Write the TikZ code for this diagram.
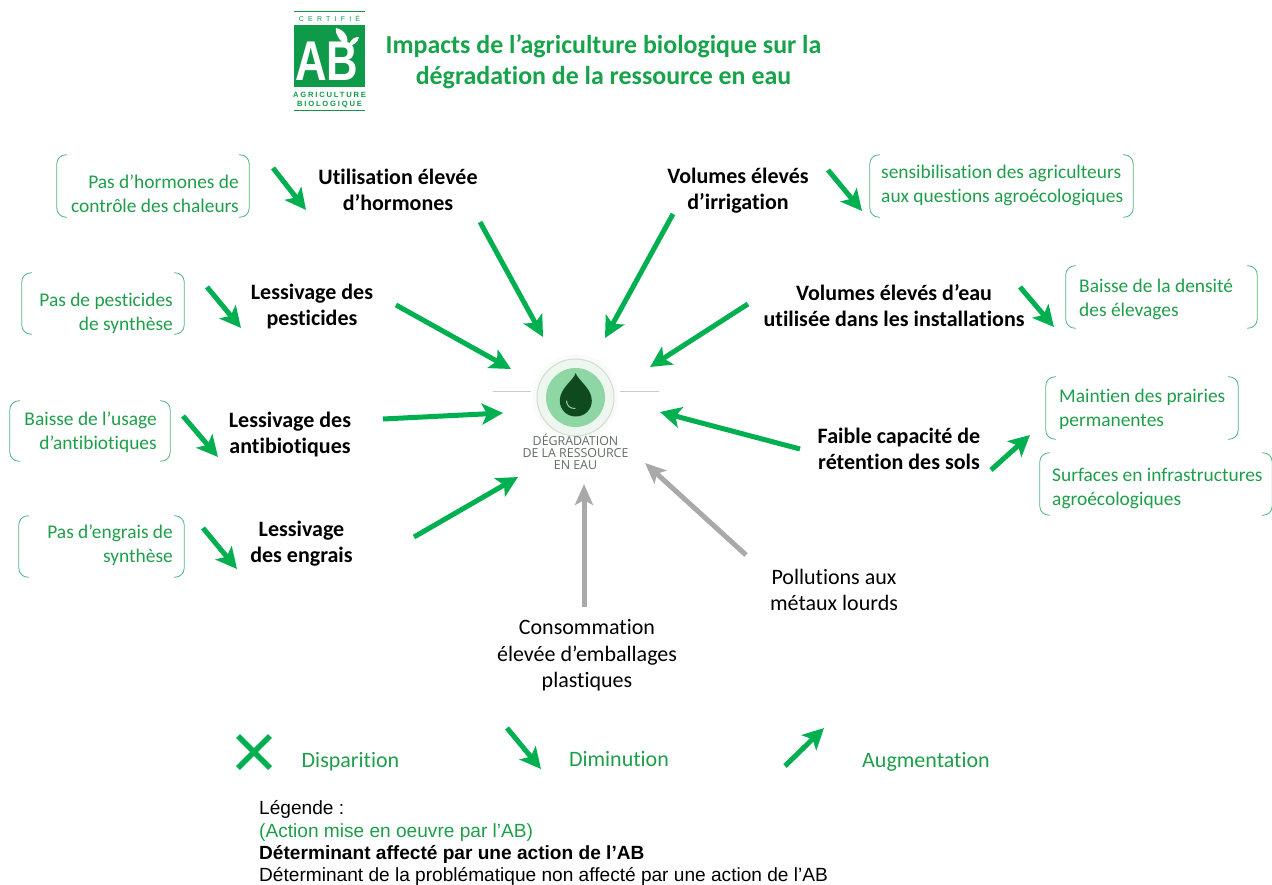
\documentclass[tikz,border=0pt]{standalone}
\usepackage{fontspec}
\setmainfont[Ligatures={TeX,NoCommon}]{Carlito}
\newfontfamily\helv{Liberation Sans}
\newfontfamily\logof[LetterSpace=24]{Liberation Sans}
\newfontfamily\certf[LetterSpace=60]{Liberation Sans}
\newfontfamily\dropf{Open Sans}
\usetikzlibrary{arrows.meta}
\definecolor{arrowgreen}{HTML}{00B050}
\definecolor{textgreen}{HTML}{1E9E4A}
\definecolor{titlegreen}{HTML}{17A34A}
\definecolor{brkgreen}{HTML}{4FB57E}
\definecolor{logogreen}{HTML}{0E9A48}
\definecolor{arrowgray}{HTML}{A9A9A9}
\definecolor{ringfill}{HTML}{EEF7EF}
\definecolor{ringline}{HTML}{D5DBD0}
\definecolor{glowfill}{HTML}{F8FBF8}
\definecolor{discgreen}{HTML}{8FD6A5}
\definecolor{dropgreen}{HTML}{0F4A1E}
\definecolor{dropgray}{HTML}{5F6D60}
\definecolor{hairline}{HTML}{C9CCC4}
\tikzset{
  x=1pt,y=-1pt,
  greenarrow/.style={draw=arrowgreen,line width=5pt,-{Stealth[length=21pt,width=21pt,inset=5pt]}},
  grayarrow/.style={draw=arrowgray,line width=5pt,-{Stealth[length=21pt,width=18pt,inset=5pt]}},
  brk/.style={inner sep=0pt},
  brkline/.style={draw=brkgreen,line width=0.8pt,rounded corners=9pt},
  act/.style={inner sep=0pt,yshift=-1pt,text=textgreen,font=\fontsize{19.4}{24}\selectfont},
  det/.style={inner sep=0pt,yshift=-1.5pt,align=center,text=black,font=\bfseries\fontsize{22}{26}\selectfont},
  other/.style={inner sep=0pt,yshift=-1pt,align=center,text=black,font=\fontsize{22}{26.5}\selectfont},
  legendtag/.style={inner sep=0pt,text=textgreen,font=\fontsize{22}{24}\selectfont},
  legendline/.style={inner sep=0pt,anchor=base west,font=\helv\fontsize{19.1}{20}\selectfont},
  logotext/.style={inner sep=0pt,text=logogreen,font=\logof\bfseries\fontsize{7.6}{9}\selectfont},
}
\newcommand{\bracketpair}[1]{%
  \draw[brkline] ([xshift=10pt]#1.north west) -- (#1.north west) -- (#1.south west) -- ([xshift=10pt]#1.south west);
  \draw[brkline] ([xshift=-10pt]#1.north east) -- (#1.north east) -- (#1.south east) -- ([xshift=-10pt]#1.south east);
}
\begin{document}
\begin{tikzpicture}
\useasboundingbox (0,0) rectangle (1272,885);
\clip (0,0) rectangle (1272,885);

% logo
\node[inner sep=0pt,fill=logogreen,minimum width=71pt,minimum height=62pt] (logo) at (329.5,56) {};
\draw[logogreen,line width=0.8pt] (294,11.5) -- (365,11.5);
\draw[logogreen,line width=0.8pt] (294,110.5) -- (365,110.5);
\node[logotext,font=\certf\fontsize{7}{8}\selectfont] (cert) at (329.5,18.5) {CERTIFIÉ};
\node[inner sep=0pt,text=white,font=\helv\bfseries\fontsize{56}{56}\selectfont,xscale=0.78] (ab) at (327,61) {AB};
\fill[white] (336,28) .. controls (344,30) and (349,36) .. (347,45) .. controls (341,42) and (335,36) .. (336,28) -- cycle;
\fill[white] (349,45) .. controls (351,38) and (356,37) .. (359,37) .. controls (358,42) and (354,46) .. (349,45) -- cycle;
\node[logotext] (agri) at (329.5,94.5) {AGRICULTURE};
\node[logotext] (bio) at (329.5,104.5) {BIOLOGIQUE};

% title
\node[inner sep=0pt,align=center,text=titlegreen,font=\bfseries\fontsize{25.9}{31}\selectfont] (title) at (603.5,62) {Impacts de l’agriculture biologique sur la\\dégradation de la ressource en eau};

% centre pictogram
\coordinate (hl1) at (493,391.5); \coordinate (hl2) at (531,391.5);
\coordinate (hr1) at (620,391.5); \coordinate (hr2) at (659,391.5);
\draw[hairline,line width=0.8pt] (hl1) -- (hl2);
\draw[hairline,line width=0.8pt] (hr1) -- (hr2);
\fill[glowfill] (575.5,397.5) circle (43);
\node[circle,inner sep=0pt,minimum size=77pt,fill=ringfill,draw=ringline,line width=1pt] (centre) at (575.5,397.5) {};
\fill[discgreen] (centre.center) circle (29.5);
\fill[dropgreen] (575.7,373) .. controls (577.5,380) and (591.8,388) .. (591.8,400.5)
  .. controls (591.8,410) and (584.5,416.5) .. (575.7,416.5)
  .. controls (567,416.5) and (559.8,410) .. (559.8,400.5)
  .. controls (559.8,388) and (574,380) .. (575.7,373) -- cycle;
\draw[discgreen,line width=1pt,line cap=round] (566.5,401) .. controls (567,406) and (570,408.5) .. (575,408.5);
\node[inner sep=0pt,align=center,text=dropgray,font=\dropf\fontsize{12.4}{12}\selectfont] (droptext) at (575.5,452) {DÉGRADATION\\DE LA RESSOURCE\\EN EAU};

% determinants
\node[det] (hormones) at (398,188) {Utilisation élevée\\d’hormones};
\node[det] (irrig) at (738,189) {Volumes élevés\\d’irrigation};
\node[det] (pest) at (312,305) {Lessivage des\\pesticides};
\node[det] (instal) at (894,304) {Volumes élevés d’eau\\utilisée dans les installations};
\node[det] (antib) at (290,433) {Lessivage des\\antibiotiques};
\node[det] (sols) at (899,447.5) {Faible capacité de\\rétention des sols};
\node[det] (engrais) at (301.5,542) {Lessivage\\des engrais};
\node[other] (metaux) at (834,589) {Pollutions aux\\métaux lourds};
\node[other] (emball) at (587,654.5) {Consommation\\élevée d’emballages\\plastiques};

% brackets and actions
\node[brk,minimum width=192pt,minimum height=62pt] (b1) at (153,186) {};
\bracketpair{b1}
\node[act,align=right,anchor=east] (t1) at (239,193) {Pas d’hormones de\\contrôle des chaleurs};
\node[brk,minimum width=162pt,minimum height=61pt] (b2) at (103,303.5) {};
\bracketpair{b2}
\node[act,align=right,anchor=east] (t2) at (173,312) {Pas de pesticides\\de synthèse};
\node[brk,minimum width=160pt,minimum height=60pt] (b3) at (90,431) {};
\bracketpair{b3}
\node[act,align=right,anchor=east] (t3) at (157,431) {Baisse de l’usage\\d’antibiotiques};
\node[brk,minimum width=165pt,minimum height=61pt] (b4) at (101.5,546.5) {};
\bracketpair{b4}
\node[act,align=right,anchor=east] (t4) at (173,544) {Pas d’engrais de\\synthèse};
\node[brk,minimum width=263pt,minimum height=62pt] (b5) at (1001.5,186) {};
\bracketpair{b5}
\node[act,align=left,anchor=west] (t5) at (881,184.5) {sensibilisation des agriculteurs\\aux questions agroécologiques};
\node[brk,minimum width=191pt,minimum height=62pt] (b6) at (1161.5,297) {};
\bracketpair{b6}
\node[act,align=left,anchor=west] (t6) at (1079,298) {Baisse de la densité\\des élevages};
\node[brk,minimum width=192pt,minimum height=62pt] (b7) at (1142,408) {};
\bracketpair{b7}
\node[act,align=left,anchor=west] (t7) at (1059,408) {Maintien des prairies\\permanentes};
\node[brk,minimum width=232pt,minimum height=62pt] (b8) at (1156,484) {};
\bracketpair{b8}
\node[act,align=left,anchor=west] (t8) at (1052,487) {Surfaces en infrastructures\\agroécologiques};

% arrow ends
\coordinate (m1s) at (480,222);  \coordinate (m1e) at (543,337);
\coordinate (m2s) at (673,214);  \coordinate (m2e) at (605,338);
\coordinate (m3s) at (396,305);  \coordinate (m3e) at (511,369);
\coordinate (m4s) at (748,304);  \coordinate (m4e) at (650,367);
\coordinate (m5s) at (383,419);  \coordinate (m5e) at (503,413);
\coordinate (m6s) at (800,449);  \coordinate (m6e) at (660,412);
\coordinate (m7s) at (414,537);  \coordinate (m7e) at (518,477);
\coordinate (g1s) at (584,607);  \coordinate (g1e) at (584,484);
\coordinate (g2s) at (746,555);  \coordinate (g2e) at (645,463);
\coordinate (s1s) at (273,168);  \coordinate (s1e) at (306,210);
\coordinate (s2s) at (207,287);  \coordinate (s2e) at (241,328);
\coordinate (s3s) at (183,416);  \coordinate (s3e) at (218,457);
\coordinate (s4s) at (203,528);  \coordinate (s4e) at (237,569);
\coordinate (s5s) at (828,170);  \coordinate (s5e) at (862,211);
\coordinate (s6s) at (1020,287); \coordinate (s6e) at (1054,327);
\coordinate (s7s) at (991,470);  \coordinate (s7e) at (1030,435);
\coordinate (l1s) at (507,728);  \coordinate (l1e) at (541,769);
\coordinate (l2s) at (785,766);  \coordinate (l2e) at (824,728);
\coordinate (x1a) at (238,736);  \coordinate (x1b) at (270,768);
\coordinate (x2a) at (270,736);  \coordinate (x2b) at (238,768);

\foreach \a in {m1,m2,m3,m4,m5,m6,m7,s1,s2,s3,s4,s5,s6,s7,l1,l2}
  \draw[greenarrow] (\a s) -- (\a e);
\draw[grayarrow] (g1s) -- (g1e);
\draw[grayarrow] (g2s) -- (g2e);
\draw[arrowgreen,line width=5.5pt] (x1a) -- (x1b);
\draw[arrowgreen,line width=5.5pt] (x2a) -- (x2b);

% legend
\node[legendtag] (disp) at (350.5,761.5) {Disparition};
\node[legendtag] (dimi) at (619,759) {Diminution};
\node[legendtag] (augm) at (926,761.5) {Augmentation};
\node[legendline] (leg1) at (259,814) {Légende :};
\node[legendline,text=textgreen] (leg2) at (259,837) {(Action mise en oeuvre par l’AB)};
\node[legendline,font=\helv\bfseries\fontsize{19.1}{20}\selectfont] (leg3) at (259,859) {Déterminant affecté par une action de l’AB};
\node[legendline] (leg4) at (259,881) {Déterminant de la problématique non affecté par une action de l’AB};
\end{tikzpicture}
\end{document}
